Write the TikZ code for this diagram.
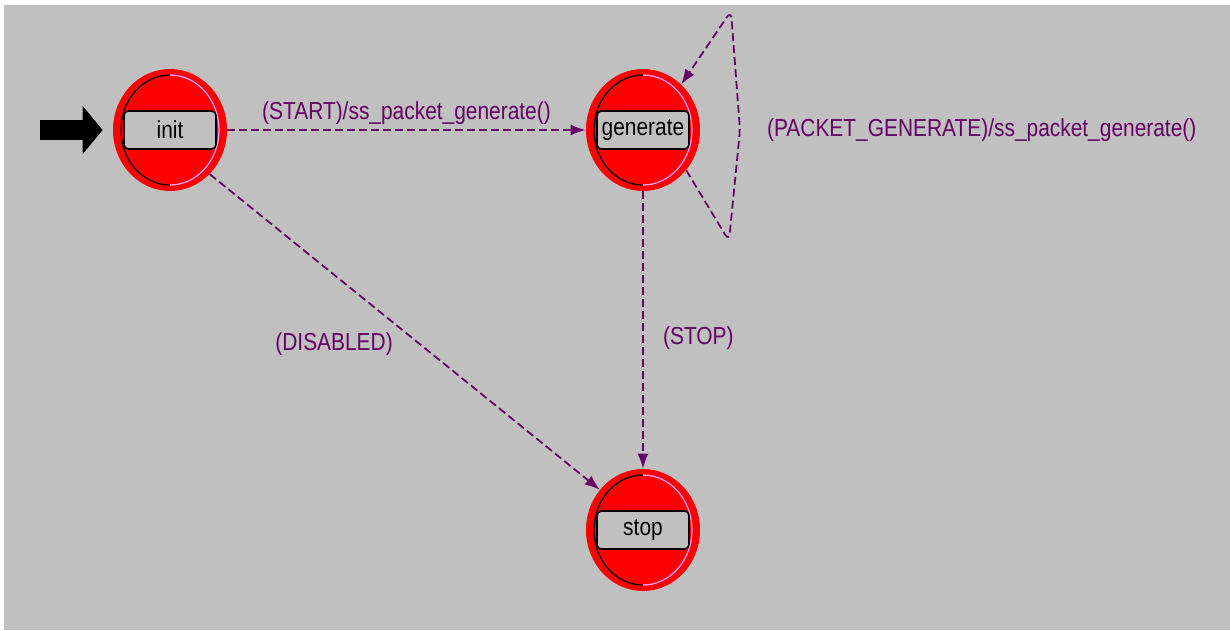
\documentclass[tikz,border=0pt]{standalone}
\usepackage{fontspec}
\newfontfamily\diafont[FakeStretch=0.85]{Liberation Sans}
\usetikzlibrary{positioning,arrows.meta,calc,shapes.geometric}
\definecolor{bggray}{RGB}{192,192,192}
\definecolor{transpurple}{RGB}{102,0,102}
\definecolor{ringpink}{RGB}{255,160,255}

\begin{document}
\begin{tikzpicture}[
  >={Latex[length=0.3cm,width=0.22cm]},
  font=\diafont\fontsize{14}{16}\selectfont,
  fsmstate/.style={ellipse, fill=red, minimum width=2.28cm, minimum height=2.44cm, inner sep=0pt},
  statebox/.style={draw=black, line width=0.9pt, rounded corners=2.5pt, fill=bggray, minimum width=1.84cm, minimum height=0.76cm, inner sep=1pt},
  trans/.style={->, draw=transpurple, line width=1pt, dash pattern=on 0.16cm off 0.08cm},
  translbl/.style={text=transpurple, inner sep=1pt},
  entryarrow/.style={black, line width=0.4cm, -{Triangle[length=0.4cm,width=0.94cm]}}
]
\useasboundingbox (0,0) rectangle (24.6,12.6);
\fill[bggray] (0.08,0) rectangle (24.6,12.5);

% states
\node[fsmstate] (init) at (3.4,10.0) {};
\node[fsmstate] (generate) at (12.86,10.0) {};
\node[fsmstate] (stop) at (12.86,2.0) {};

\foreach \s in {init,generate,stop} {
  \draw[black, line width=0.7pt] ($(\s.center)+(0,1.1)$) arc[start angle=90, end angle=270, x radius=0.98cm, y radius=1.1cm];
  \draw[ringpink, line width=0.7pt] ($(\s.center)+(0,-1.1)$) arc[start angle=-90, end angle=90, x radius=0.98cm, y radius=1.1cm];
}

\node[statebox] (init-box) at (init) {init};
\node[statebox] (generate-box) at (generate) {generate};
\node[statebox] (stop-box) at (stop) {stop};

% entry
\coordinate (entry) at (0.8,10.0);
\draw[entryarrow, shorten >=0.2cm] (entry) -- (init);

% transitions
\draw[trans] (init) -- node[translbl, above=0.06cm] (start-lbl) {(START)/ss\_packet\_generate()} (generate);
\draw[trans] (init.-48) -- node[translbl, pos=0.54, left=0.5cm] (disabled-lbl) {(DISABLED)} (stop.137);
\draw[trans] (generate) -- node[translbl, pos=0.53, right=0.35cm] (stop-lbl) {(STOP)} (stop);

\coordinate (loop-lo) at (14.58,7.78);
\coordinate (loop-mid) at (14.8,10.0);
\coordinate (loop-hi) at (14.62,12.38);
\draw[trans, rounded corners=0.15cm] (generate.-43) -- (loop-lo) -- (loop-mid) -- (loop-hi) -- (generate.50);
\node[translbl, right=0.5cm of loop-mid] (pkt-lbl) {(PACKET\_GENERATE)/ss\_packet\_generate()};

\end{tikzpicture}
\end{document}
